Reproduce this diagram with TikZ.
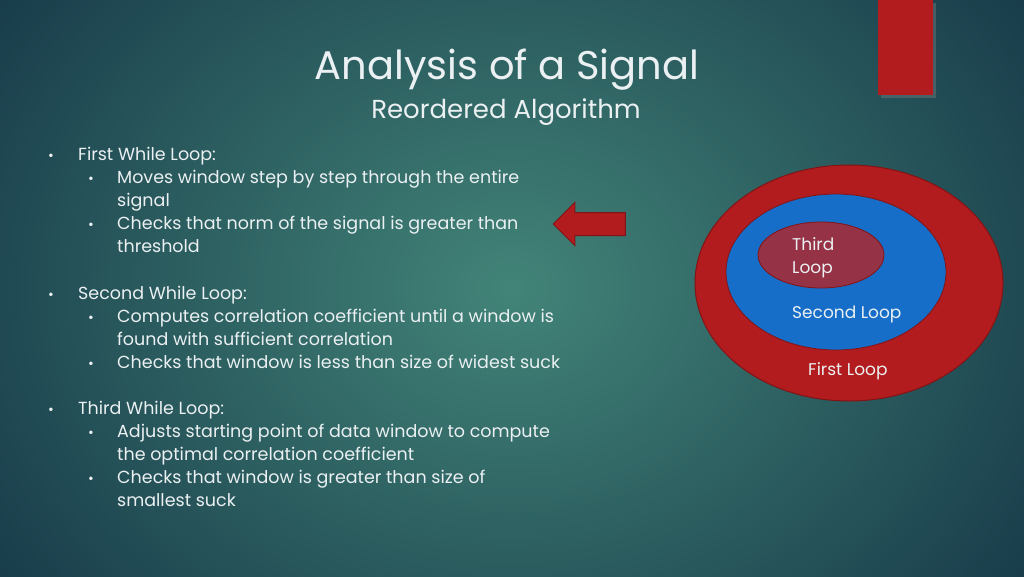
\documentclass[tikz,border=0pt]{standalone}
\usepackage{fontspec}
\setmainfont{Poppins}
\usetikzlibrary{shapes.arrows,shadows}
\definecolor{bgin}{RGB}{66,132,120}
\definecolor{bgout}{RGB}{22,56,72}
\definecolor{loopred}{RGB}{178,28,30}
\definecolor{loopedge}{RGB}{130,20,22}
\definecolor{loopblue}{RGB}{22,110,200}
\definecolor{loopthird}{RGB}{150,50,70}
\definecolor{txt}{RGB}{235,240,242}
\begin{document}
\begin{tikzpicture}[x=1pt,y=-1pt,
  line/.style={anchor=base west, text=txt, font=\fontsize{17.5}{21}\selectfont, inner sep=0pt},
  bul/.style={anchor=base west, text=txt, font=\fontsize{14}{17}\selectfont, inner sep=0pt},
  lbl/.style={anchor=base west, text=txt, font=\fontsize{17}{21}\selectfont, inner sep=0pt, align=left}
]
% background
\useasboundingbox (0,0) rectangle (1024,576);
\begin{scope}
  \clip (0,0) rectangle (1024,576);
  \shade[inner color=bgin, outer color=bgout] (-150,-250) rectangle (1174,826);
\end{scope}
\fill[loopred, drop shadow={opacity=0.4}] (878,0) rectangle (933,95);

% title
\node[text=txt, font=\fontsize{40}{48}\selectfont] (title) at (507,70) {Analysis of a Signal};
\node[text=txt, font=\fontsize{26}{31}\selectfont] (subtitle) at (506,112) {Reordered Algorithm};

% bullet text
\foreach \y/\t in {160/First While Loop:, 299/Second While Loop:, 414/Third While Loop:}
  \node[bul] at (48,\y) {•} node[line] at (78,\y) {\t};
\foreach \y in {183,229,322,368,437,483}
  \node[bul] at (88,\y) {•};
\foreach \y/\t in {183/Moves window step by step through the entire,
  206/signal,
  229/Checks that norm of the signal is greater than,
  252/threshold,
  322/Computes correlation coefficient until a window is,
  345/found with sufficient correlation,
  368/Checks that window is less than size of widest suck,
  437/Adjusts starting point of data window to compute,
  460/the optimal correlation coefficient,
  483/Checks that window is greater than size of,
  506/smallest suck}
  \node[line] at (117,\y) {\t};

% arrow
\node[single arrow, shape border rotate=180, fill=loopred, draw=loopedge, line width=1pt,
  inner sep=11pt, single arrow head extend=10pt, single arrow head indent=0pt,
  minimum height=72pt] (pointer) at (595,224) {};

% loops
\draw[fill=loopred, draw=loopedge, line width=1pt] (849,283) ellipse [x radius=154, y radius=118];
\draw[fill=loopblue, draw=loopedge, line width=0.8pt] (836,272) ellipse [x radius=110, y radius=78];
\draw[fill=loopthird, draw=loopedge, line width=0.8pt] (821,255) ellipse [x radius=63, y radius=33];
\node[lbl] (third) at (792,250) {Third};
\node[lbl] (thirdb) at (792,273) {Loop};
\node[lbl] (second) at (792,318) {Second Loop};
\node[lbl] (first) at (808,375) {First Loop};
\end{tikzpicture}
\end{document}
